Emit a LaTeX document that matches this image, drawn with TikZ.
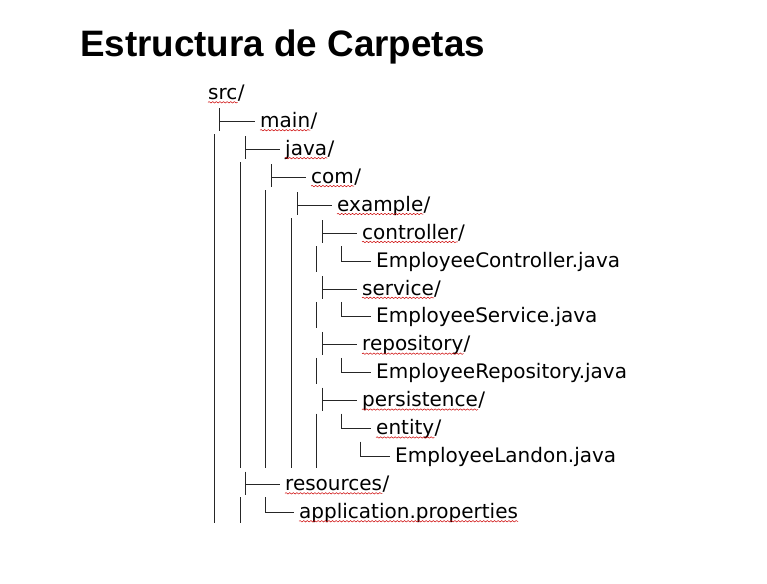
\documentclass[tikz,border=0pt]{standalone}
\usepackage{fontspec}
\setmainfont{DejaVu Sans}
\newfontfamily\titlefont{Liberation Sans}
\usetikzlibrary{decorations.pathmorphing}

% baseline of tree row #1 (y runs downwards, in px)
\newcommand{\bl}[1]{99.5+27.93*#1}

\tikzset{
  entry/.style={anchor=base west, inner sep=0pt, font=\fontsize{20}{22}\selectfont},
  tree/.style={line width=1pt, black!85},
  spell/.style={red!80!black, line width=0.5pt, decorate,
    decoration={snake, amplitude=0.7pt, segment length=3.6pt}},
}

\begin{document}
\begin{tikzpicture}[x=1pt, y=-1pt]
  \useasboundingbox (0,0) rectangle (767,583);

  \node[anchor=base west, inner sep=0pt, font=\titlefont\bfseries\fontsize{36.8}{40}\selectfont]
    (title) at (80,57) {Estructura de Carpetas};

  % folders and files
  \node[entry] (src) at (208,{\bl{0}}) {src};
  \node[entry] (main) at (260,{\bl{1}}) {main};
  \node[entry] (java) at (285,{\bl{2}}) {java};
  \node[entry] (com) at (311,{\bl{3}}) {com};
  \node[entry] (example) at (337,{\bl{4}}) {example};
  \node[entry] (controller) at (362,{\bl{5}}) {controller};
  \node[entry] (ctrlfile) at (376,{\bl{6}}) {EmployeeController.java};
  \node[entry] (service) at (362,{\bl{7}}) {service};
  \node[entry] (servfile) at (376,{\bl{8}}) {EmployeeService.java};
  \node[entry] (repository) at (362,{\bl{9}}) {repository};
  \node[entry] (repofile) at (376,{\bl{10}}) {EmployeeRepository.java};
  \node[entry] (persistence) at (362,{\bl{11}}) {persistence};
  \node[entry] (entity) at (376,{\bl{12}}) {entity};
  \node[entry] (landon) at (395,{\bl{13}}) {EmployeeLandon.java};
  \node[entry] (resources) at (285,{\bl{14}}) {resources};
  \node[entry] (appprops) at (299,{\bl{15}}) {application.properties};

  \foreach \d in {src,main,java,com,example,controller,service,repository,persistence,entity,resources}
    \node[entry] (\d-s) at (\d.base east) {/};

  % spell check marks
  \foreach \d in {src,main,java,com,example,controller,service,repository,persistence,entity,resources,appprops}
    \draw[spell] ([yshift=-2.8pt]\d.base west) -- ([yshift=-2.8pt]\d.base east);

  % long bars
  \draw[tree] (214,{\bl{2}-21}) -- (214,{\bl{15}+5});
  \draw[tree] (240,{\bl{3}-21}) -- (240,{\bl{13}+5});
  \draw[tree] (240,{\bl{15}-21}) -- (240,{\bl{15}+5});
  \draw[tree] (265.7,{\bl{4}-21}) -- (265.7,{\bl{13}+5});
  \draw[tree] (291,{\bl{5}-21}) -- (291,{\bl{13}+5});
  \foreach \r in {6,8,10}
    \draw[tree] (316.7,{\bl{\r}-21}) -- (316.7,{\bl{\r}+5});
  \draw[tree] (316.7,{\bl{12}-21}) -- (316.7,{\bl{13}+5});

  % tees
  \foreach \x/\r/\n in {219/1/main, 245/2/java, 271/3/com, 297/4/example,
      322.7/5/controller, 322.7/7/service, 322.7/9/repository,
      322.7/11/persistence, 245/14/resources}
    \draw[tree] (\x,{\bl{\r}-19}) -- (\x,{\bl{\r}+4})
      (\x,{\bl{\r}-6}) -- ([shift={(-5pt,6pt)}]\n.base west);

  % elbows
  \foreach \x/\r/\n in {341.7/6/ctrlfile, 341.7/8/servfile, 341.7/10/repofile,
      341.7/12/entity, 360.7/13/landon, 265.7/15/appprops}
    \draw[tree] (\x,{\bl{\r}-21}) |- ([shift={(-5pt,6pt)}]\n.base west);
\end{tikzpicture}
\end{document}
